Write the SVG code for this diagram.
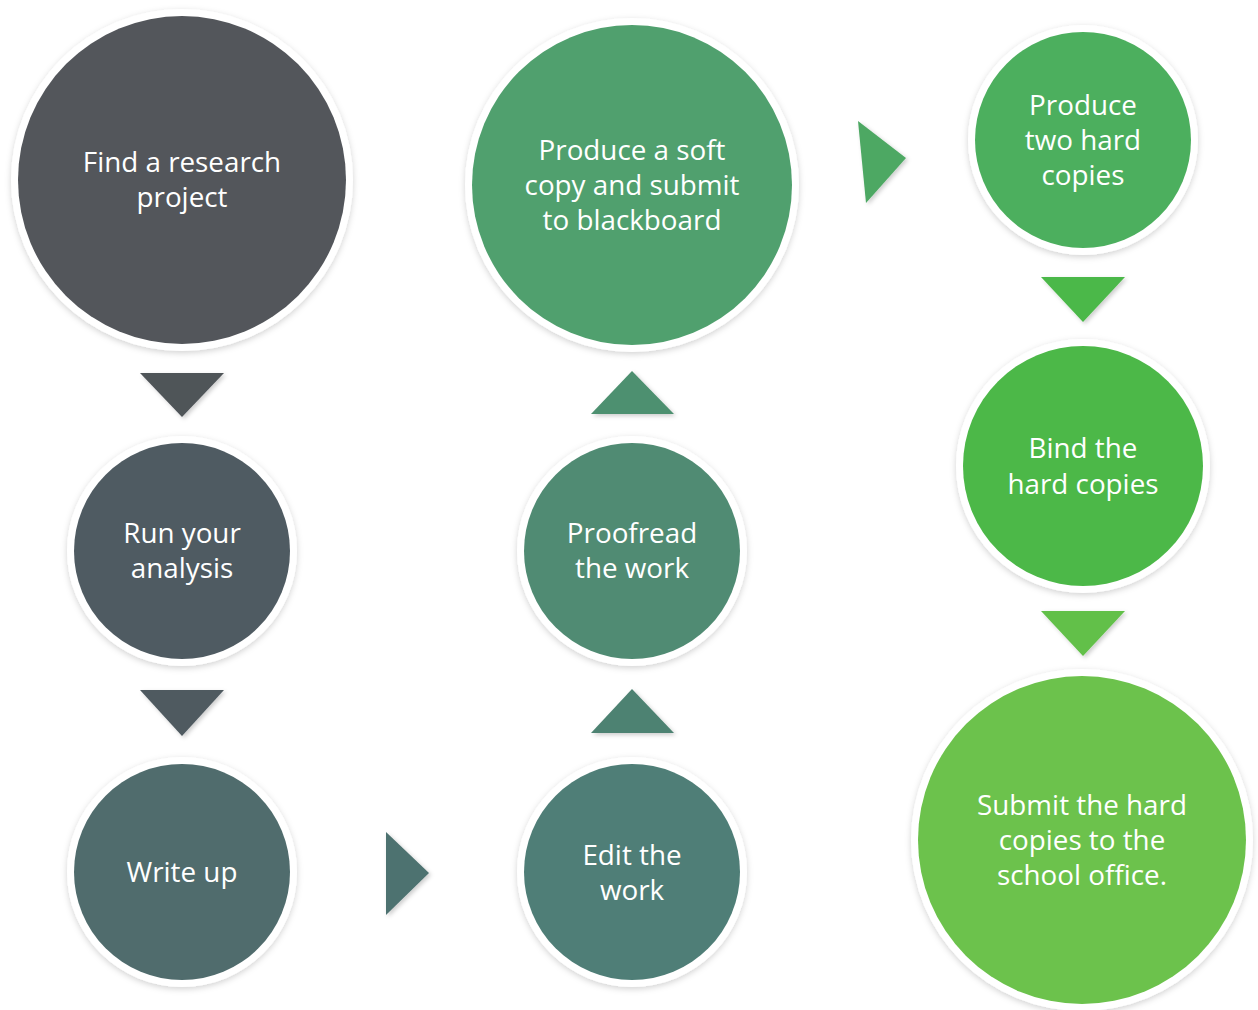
<svg xmlns="http://www.w3.org/2000/svg" width="1258" height="1010" viewBox="0 0 1258 1010">
<defs>
<filter id="sh" x="-20%" y="-20%" width="140%" height="140%">
<feDropShadow dx="0" dy="2" stdDeviation="3" flood-color="#000" flood-opacity="0.18"/>
</filter>
<filter id="tsh" x="-30%" y="-30%" width="160%" height="160%">
<feDropShadow dx="2" dy="2" stdDeviation="2" flood-color="#000" flood-opacity="0.2"/>
</filter>
</defs>
<style>
.ring{fill:#fff;filter:url(#sh)}
.t{font-family:"Open Sans","Noto Sans","Liberation Sans",sans-serif;font-size:27.8px;fill:#fff;text-anchor:middle;dominant-baseline:central}
.tri{filter:url(#tsh)}
</style>
<rect width="1258" height="1010" fill="#fff"/>
<g id="connectors">
<polygon class="tri" points="140,373 224,373 182,417" fill="#4f5459"/>
<polygon class="tri" points="140,690 224,690 182,736" fill="#4f5a61"/>
<polygon class="tri" points="386,832 386,915 429,873" fill="#4e7270"/>
<polygon class="tri" points="591,733 674,733 632,689" fill="#4e8272"/>
<polygon class="tri" points="591,414 674,414 632,371" fill="#4e9070"/>
<polygon class="tri" points="858,121 906,158 866,203" fill="#4ea864"/>
<polygon class="tri" points="1041,277 1125,277 1083,322" fill="#4cb848"/>
<polygon class="tri" points="1041,611 1125,611 1083,656" fill="#62c04a"/>
</g>
<g id="n1">
<circle class="ring" cx="182" cy="180" r="171"/>
<circle cx="182" cy="180" r="164" fill="#53565b"/>
<text class="t" x="182" y="161">Find a research</text>
<text class="t" x="182" y="196">project</text>
</g>
<g id="n2">
<circle class="ring" cx="182" cy="551" r="115"/>
<circle cx="182" cy="551" r="108" fill="#4f5b62"/>
<text class="t" x="182" y="532">Run your</text>
<text class="t" x="182" y="567">analysis</text>
</g>
<g id="n3">
<circle class="ring" cx="182" cy="872" r="115"/>
<circle cx="182" cy="872" r="108" fill="#506c6d"/>
<text class="t" x="182" y="871">Write up</text>
</g>
<g id="n4">
<circle class="ring" cx="632" cy="185" r="167"/>
<circle cx="632" cy="185" r="160" fill="#50a06e"/>
<text class="t" x="632" y="149">Produce a soft</text>
<text class="t" x="632" y="184">copy and submit</text>
<text class="t" x="632" y="219">to blackboard</text>
</g>
<g id="n5">
<circle class="ring" cx="632" cy="551" r="115"/>
<circle cx="632" cy="551" r="108" fill="#508b73"/>
<text class="t" x="632" y="532">Proofread</text>
<text class="t" x="632" y="567">the work</text>
</g>
<g id="n6">
<circle class="ring" cx="632" cy="872" r="115"/>
<circle cx="632" cy="872" r="108" fill="#4f7e77"/>
<text class="t" x="632" y="854">Edit the</text>
<text class="t" x="632" y="889">work</text>
</g>
<g id="n7">
<circle class="ring" cx="1083" cy="140" r="115"/>
<circle cx="1083" cy="140" r="108" fill="#4caf5e"/>
<text class="t" x="1083" y="104">Produce</text>
<text class="t" x="1083" y="139">two hard</text>
<text class="t" x="1083" y="174">copies</text>
</g>
<g id="n8">
<circle class="ring" cx="1083" cy="466" r="127"/>
<circle cx="1083" cy="466" r="120" fill="#4cb848"/>
<text class="t" x="1083" y="447">Bind the</text>
<text class="t" x="1083" y="483">hard copies</text>
</g>
<g id="n9">
<circle class="ring" cx="1082" cy="840" r="171"/>
<circle cx="1082" cy="840" r="164" fill="#6cc24c"/>
<text class="t" x="1082" y="804">Submit the hard</text>
<text class="t" x="1082" y="839">copies to the</text>
<text class="t" x="1082" y="874">school office.</text>
</g>
</svg>
